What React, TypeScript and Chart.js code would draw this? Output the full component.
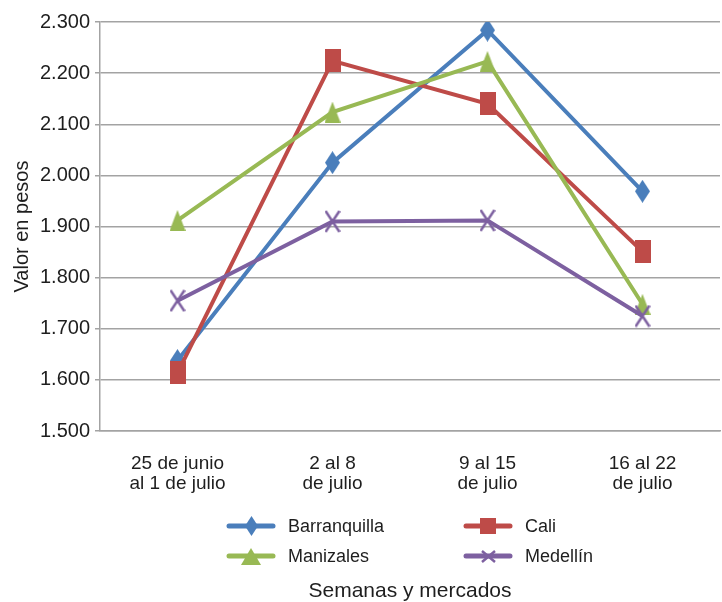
import React, { useEffect, useRef } from 'react';
import { Chart, registerables } from 'chart.js';

Chart.register(...registerables);

// ---- data ----
const categories: string[][] = [
  ['25 de junio', 'al 1 de julio'],
  ['2 al 8', 'de julio'],
  ['9 al 15', 'de julio'],
  ['16 al 22', 'de julio'],
];
const barranquilla = [1638, 2025, 2284, 1969];
const cali = [1614, 2224, 2140, 1851];
const manizales = [1912, 2124, 2223, 1748];
const medellin = [1755, 1910, 1912, 1725];

const seriesNames = ['Barranquilla', 'Cali', 'Manizales', 'Medellín'];
const yMin = 1500;
const yMax = 2300;
const yStep = 100;
const yTitle = 'Valor en pesos';
const xTitle = 'Semanas y mercados';

// ---- styles ----
const COLORS = ['#4A7EBB', '#BE4B48', '#98B954', '#7D60A0'];
const SHAPES = ['diamond', 'square', 'triangle', 'cross'];
const FONT = '"Liberation Sans", Arial, Helvetica, sans-serif';
const TEXT = '#1e1e1e';
const GRID = '#a3a3a3';

function makeMarker(kind: string, color: string, w: number, h: number): HTMLCanvasElement {
  const c = document.createElement('canvas');
  c.width = w;
  c.height = h;
  const ctx = c.getContext('2d')!;
  ctx.fillStyle = color;
  ctx.strokeStyle = color;
  ctx.beginPath();
  if (kind === 'diamond') {
    ctx.moveTo(w / 2, 0);
    ctx.lineTo(w, h / 2);
    ctx.lineTo(w / 2, h);
    ctx.lineTo(0, h / 2);
    ctx.closePath();
    ctx.fill();
  } else if (kind === 'square') {
    ctx.rect(0, 0, w, h);
    ctx.fill();
  } else if (kind === 'triangle') {
    ctx.moveTo(w / 2, 0);
    ctx.lineTo(w, h);
    ctx.lineTo(0, h);
    ctx.closePath();
    ctx.fill();
  } else {
    ctx.lineWidth = 2.5;
    ctx.moveTo(1, 1);
    ctx.lineTo(w - 1, h - 1);
    ctx.moveTo(w - 1, 1);
    ctx.lineTo(1, h - 1);
    ctx.stroke();
  }
  return c;
}

const plotMarkerSize: [number, number][] = [[15, 23], [16, 23], [16, 21], [16, 23]];
const legendMarkerSize: [number, number][] = [[13, 20], [16, 16], [20, 17], [15, 13]];

function fmt(v: number): string {
  const th = Math.floor(v / 1000);
  const rest = String(Math.round(v % 1000)).padStart(3, '0');
  return th + '.' + rest;
}

const gridLegend = {
  id: 'gridLegend',
  afterDraw(chart: any) {
    const { ctx, chartArea } = chart;
    const cx = (chartArea.left + chartArea.right) / 2;
    const cols = [cx - 159, cx + 78];
    const rows = [chartArea.bottom + 95, chartArea.bottom + 125];
    chart.data.datasets.forEach((ds: any, i: number) => {
      const mx = cols[i % 2];
      const my = rows[Math.floor(i / 2)];
      ctx.save();
      ctx.strokeStyle = ds.borderColor;
      ctx.lineWidth = 5;
      ctx.lineCap = 'round';
      ctx.beginPath();
      ctx.moveTo(mx - 22, my);
      ctx.lineTo(mx + 22, my);
      ctx.stroke();
      const img: HTMLCanvasElement = ds.legendMarker;
      ctx.drawImage(img, Math.round(mx - img.width / 2), Math.round(my - img.height / 2));
      ctx.fillStyle = TEXT;
      ctx.font = '18px ' + FONT;
      ctx.textBaseline = 'middle';
      ctx.textAlign = 'left';
      ctx.fillText(ds.label, mx + 37, my + 1);
      ctx.restore();
    });
  },
};

export default function App() {
  const ref = useRef<HTMLCanvasElement | null>(null);

  useEffect(() => {
    document.body.style.margin = '0';
    document.body.style.overflow = 'hidden';
    const canvas = ref.current;
    if (!canvas) return;
    const values = [barranquilla, cali, manizales, medellin];
    const datasets = values.map((data, i) => ({
      label: seriesNames[i],
      data,
      borderColor: COLORS[i],
      backgroundColor: COLORS[i],
      borderWidth: 4,
      pointStyle: makeMarker(SHAPES[i], COLORS[i], plotMarkerSize[i][0], plotMarkerSize[i][1]),
      pointRadius: 9,
      pointHoverRadius: 9,
      tension: 0,
      fill: false,
      order: 4 - i,
      legendMarker: makeMarker(SHAPES[i], COLORS[i], legendMarkerSize[i][0], legendMarkerSize[i][1]),
    }));

    const chart = new Chart(canvas, {
      type: 'line',
      data: { labels: categories as any, datasets: datasets as any },
      plugins: [gridLegend],
      options: {
        animation: false,
        responsive: false,
        maintainAspectRatio: false,
        layout: { autoPadding: false, padding: { top: 22, right: 2, left: 0, bottom: 0 } },
        plugins: {
          legend: { display: false },
          tooltip: { enabled: false },
          title: {
            display: true,
            position: 'bottom',
            fullSize: false,
            text: xTitle,
            color: TEXT,
            font: { family: FONT, size: 21, weight: 'normal', lineHeight: 1 },
            padding: { top: 64, bottom: 0 },
          },
        },
        scales: {
          x: {
            type: 'category',
            offset: true,
            afterFit: (scale: any) => {
              scale.paddingLeft = 0;
              scale.paddingRight = 0;
            },
            grid: { display: false, drawTicks: false },
            border: { display: true, color: GRID, width: 1.5 },
            ticks: {
              color: TEXT,
              font: { family: FONT, size: 19, lineHeight: 1.05 },
              padding: 23,
              maxRotation: 0,
              autoSkip: false,
            },
          },
          y: {
            min: yMin,
            max: yMax,
            afterFit: (scale: any) => {
              scale.width = 100;
            },
            grid: { color: GRID, lineWidth: 1.5, tickLength: 5, drawTicks: true },
            border: { display: true, color: GRID, width: 1.5 },
            ticks: {
              stepSize: yStep,
              color: TEXT,
              font: { family: FONT, size: 20 },
              padding: 5,
              callback: (v: any) => fmt(Number(v)),
            },
            title: {
              display: true,
              text: yTitle,
              color: TEXT,
              font: { family: FONT, size: 20, lineHeight: 1.2 },
              padding: { top: 10, bottom: 0 },
            },
          },
        },
      } as any,
    });
    return () => chart.destroy();
  }, []);

  return (
    <div style={{ width: 722, height: 602 }}>
      <canvas ref={ref} width={722} height={602} style={{ display: 'block' }} />
    </div>
  );
}
